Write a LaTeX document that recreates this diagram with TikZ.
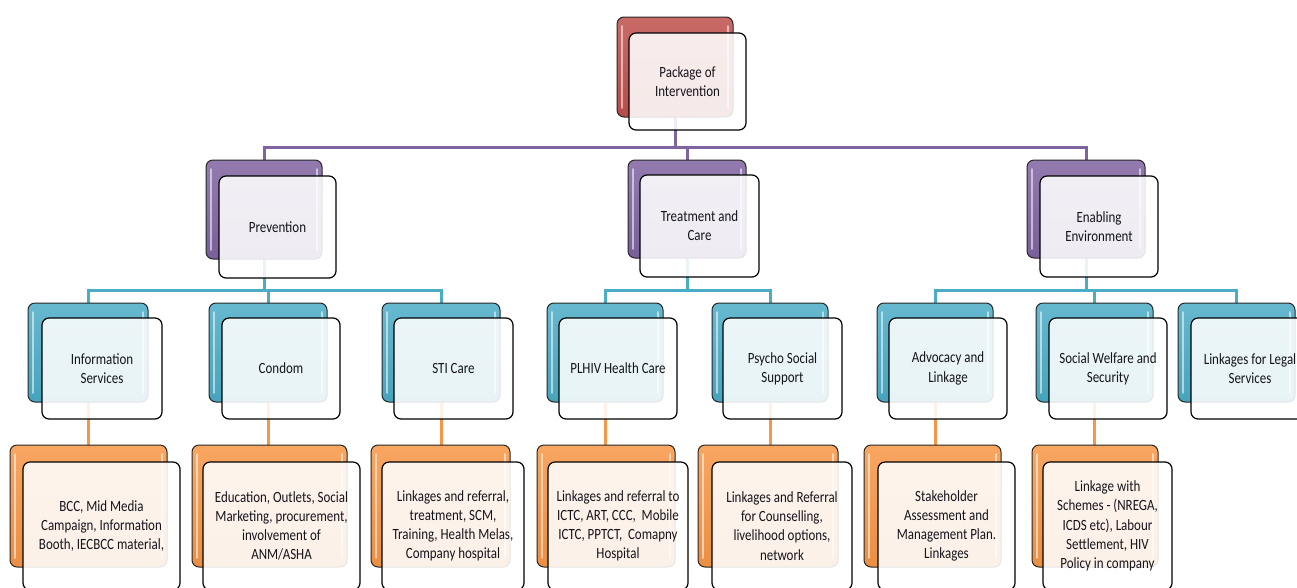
\documentclass[tikz,border=0pt]{standalone}
\usepackage{fontspec}
\setmainfont{Carlito}[FakeStretch=0.83]
\usetikzlibrary{backgrounds}

\definecolor{redc}{HTML}{C0504D}
\definecolor{purplec}{HTML}{8064A2}
\definecolor{bluec}{HTML}{4BACC6}
\definecolor{orangec}{HTML}{F79646}
\definecolor{inkc}{HTML}{14141C}

\newcommand\lbl{\fontsize{15.6}{19.2}\selectfont}

% one box from its corner coordinates: name, style, x1, y1, x2, y2, text
\newcommand\bx[7]{%
  \node[#2, minimum width={#5pt-#3pt}, minimum height={#6pt-#4pt}]
    (#1) at ({(#3+#5)/2},{(#4+#6)/2}) {#7};}

\tikzset{
  boxbase/.style={rounded corners=7pt, inner sep=0pt, outer sep=0pt},
  backbox/.style={boxbase, draw=black!85, line width=1pt,
    top color=#1!85!white, bottom color=#1!95!black,
    path picture={
      \draw[white, opacity=.55, line width=1.6pt, line cap=round]
        ([xshift=5pt,yshift=-9pt]path picture bounding box.north west) --
        ([xshift=5pt,yshift=9pt]path picture bounding box.south west);
      \draw[white, opacity=.55, line width=1.6pt, line cap=round]
        ([xshift=-5pt,yshift=-9pt]path picture bounding box.north east) --
        ([xshift=-5pt,yshift=9pt]path picture bounding box.south east);
    }},
  frontbox/.style={boxbase, draw=black, line width=1.2pt, fill=white,
    fill opacity=.88, text opacity=1, align=center, font=\lbl, text=inkc},
  link/.style={line width=3pt, draw=#1},
}

\begin{document}
\begin{tikzpicture}[x=1pt,y=-1pt]
\clip (0,0) rectangle (1297,587);

\coordinate (busP) at (0,147);
\coordinate (busB) at (0,290);

% root
\bx{topB}{backbox=redc}{617}{17}{733}{117}{}
\bx{topF}{frontbox}{629}{33}{746}{130}{Package of\\Intervention}

% second level
\bx{prevB}{backbox=purplec}{206}{160}{322}{259}{}
\bx{prevF}{frontbox}{219}{176}{336}{278}{Prevention}
\bx{treatB}{backbox=purplec}{628}{160}{746}{258}{}
\bx{treatF}{frontbox}{640}{175}{759}{277}{Treatment and\\Care}
\bx{enabB}{backbox=purplec}{1027}{160}{1145}{258}{}
\bx{enabF}{frontbox}{1040}{176}{1158}{277}{Enabling\\Environment}

% third level
\bx{infoB}{backbox=bluec}{28}{303}{148}{402}{}
\bx{infoF}{frontbox}{42}{318}{162}{419}{Information\\Services}
\bx{condB}{backbox=bluec}{209}{303}{327}{402}{}
\bx{condF}{frontbox}{222}{318}{340}{419}{Condom}
\bx{stiB}{backbox=bluec}{382}{303}{500}{402}{}
\bx{stiF}{frontbox}{394}{318}{513}{419}{STI Care}
\bx{plhivB}{backbox=bluec}{547}{303}{663}{402}{}
\bx{plhivF}{frontbox}{559}{318}{677}{419}{PLHIV Health Care}
\bx{psyB}{backbox=bluec}{712}{303}{828}{402}{}
\bx{psyF}{frontbox}{723}{318}{842}{419}{Psycho Social\\Support}
\bx{advB}{backbox=bluec}{877}{303}{993}{402}{}
\bx{advF}{frontbox}{889}{318}{1007}{419}{Advocacy and\\Linkage}
\bx{socB}{backbox=bluec}{1036}{303}{1153}{402}{}
\bx{socF}{frontbox}{1049}{318}{1167}{419}{Social Welfare and\\Security}
\bx{legB}{backbox=bluec}{1178}{303}{1295}{402}{}
\bx{legF}{frontbox}{1191}{318}{1309}{419}{Linkages for Legal\\Services}

% fourth level
\bx{bccB}{backbox=orangec}{10}{445}{167}{567}{}
\bx{bccF}{frontbox}{23}{462}{180}{590}{BCC, Mid Media\\Campaign, Information\\Booth, IECBCC material,}
\bx{eduB}{backbox=orangec}{192}{445}{347}{567}{}
\bx{eduF}{frontbox}{203}{462}{360}{590}{Education, Outlets, Social\\Marketing, procurement,\\involvement of\\ANM/ASHA}
\bx{stiLB}{backbox=orangec}{371}{445}{510}{567}{}
\bx{stiLF}{frontbox}{382}{462}{524}{590}{Linkages and referral,\\treatment, SCM,\\Training, Health Melas,\\Company hospital}
\bx{plhLB}{backbox=orangec}{537}{445}{675}{567}{}
\bx{plhLF}{frontbox}{548}{462}{688}{590}{Linkages and referral to\\ICTC, ART, CCC,\ \ Mobile\\ICTC, PPTCT,\ \ Comapny\\Hospital}
\bx{psyLB}{backbox=orangec}{698}{445}{838}{567}{}
\bx{psyLF}{frontbox}{712}{462}{852}{590}{Linkages and Referral\\for Counselling,\\livelihood options,\\network}
\bx{advLB}{backbox=orangec}{864}{445}{1001}{567}{}
\bx{advLF}{frontbox}{878}{462}{1015}{590}{Stakeholder\\Assessment and\\Management Plan.\\Linkages}
\bx{socLB}{backbox=orangec}{1032}{445}{1158}{567}{}
\bx{socLF}{frontbox}{1043}{462}{1172}{590}{Linkage with\\Schemes - (NREGA,\\ICDS etc), Labour\\Settlement, HIV\\Policy in company}

\begin{pgfonlayer}{background}
  % root to second level
  \draw[link=purplec] (topB.center) -- (topB.center |- busP);
  \draw[link=purplec] (prevB.north) -- (prevB.north |- busP) -- (enabB.north |- busP) -- (enabB.north);
  \draw[link=purplec] (treatB.north) -- (treatB.north |- busP);
  % second to third level
  \draw[link=bluec] (prevB.center) -- (prevB.center |- busB);
  \draw[link=bluec] (infoB.north) -- (infoB.north |- busB) -- (stiB.north |- busB) -- (stiB.north);
  \draw[link=bluec] (condB.north) -- (condB.north |- busB);
  \draw[link=bluec] (treatB.center) -- (treatB.center |- busB);
  \draw[link=bluec] (plhivB.north) -- (plhivB.north |- busB) -- (psyB.north |- busB) -- (psyB.north);
  \draw[link=bluec] (enabB.center) -- (enabB.center |- busB);
  \draw[link=bluec] (advB.north) -- (advB.north |- busB) -- (legB.north |- busB) -- (legB.north);
  \draw[link=bluec] (socB.north) -- (socB.north |- busB);
  % third to fourth level
  \draw[link=orangec] (infoB.center) -- (infoB.center |- bccB.north);
  \draw[link=orangec] (condB.center) -- (condB.center |- eduB.north);
  \draw[link=orangec] (stiB.center) -- (stiB.center |- stiLB.north);
  \draw[link=orangec] (plhivB.center) -- (plhivB.center |- plhLB.north);
  \draw[link=orangec] (psyB.center) -- (psyB.center |- psyLB.north);
  \draw[link=orangec] (advB.center) -- (advB.center |- advLB.north);
  \draw[link=orangec] (socB.center) -- (socB.center |- socLB.north);
\end{pgfonlayer}
\end{tikzpicture}
\end{document}
